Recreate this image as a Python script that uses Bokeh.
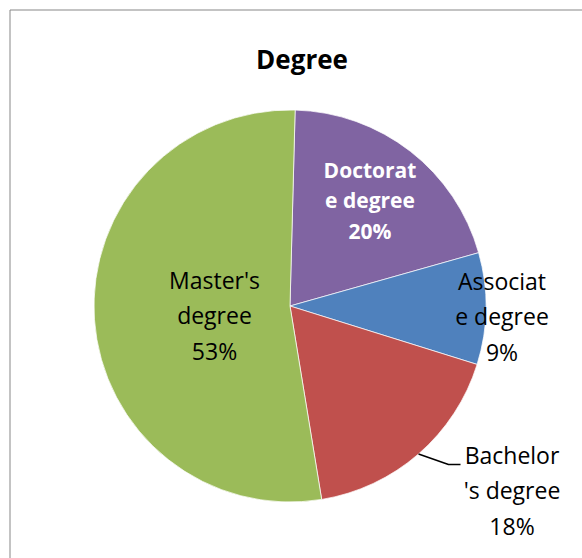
import numpy as np
from bokeh.plotting import figure
from bokeh.models import Range1d, ColumnDataSource
from bokeh.core.properties import value
from bokeh.embed import file_html
from bokeh.resources import INLINE

# ---- data ----
title = "Degree"
categories = ["Doctorate degree", "Associate degree", "Bachelor's degree", "Master's degree"]
label_lines = ["Doctorat\ne degree", "Associat\ne degree", "Bachelor\n's degree", "Master's\ndegree"]
values = [20.2, 9.2, 17.6, 53.0]
colors = ["#8064A2", "#4F81BD", "#C0504D", "#9BBB59"]

# ---- layout ----
W, H = 582, 558
cx, cy, R = 289.5, 252.5, 196.0
first_angle_deg = 1.5  # clockwise from 12 o'clock
label_pos = [(369.5, 358.0), (501.5, 242.0), (511.5, 68.0), (214.0, 243.0)]
label_color = ["white", "black", "black", "black"]
label_style = ["bold", "normal", "normal", "normal"]
label_size = ["21px", "23px", "23px", "23px"]

vals = np.array(values, dtype=float)
frac = vals / vals.sum()
cum = np.concatenate([[0.0], np.cumsum(frac)]) * 2 * np.pi + np.radians(first_angle_deg)
theta1, theta2 = cum[:-1], cum[1:]
# bokeh angles: counter-clockwise from +x
start = np.pi / 2 - theta2
end = np.pi / 2 - theta1
pct = [f"{int(round(f * 100))}%" for f in frac]
texts = [f"{l}\n{p}" for l, p in zip(label_lines, pct)]

p = figure(width=W, height=H, x_range=Range1d(0, W), y_range=Range1d(0, H),
           min_border=0, toolbar_location=None, output_backend="svg",
           x_axis_location=None, y_axis_location=None)
p.grid.visible = False
p.outline_line_color = None
p.background_fill_color = "white"
p.border_fill_color = "white"

src = ColumnDataSource(dict(start=start, end=end, color=colors, cat=categories))
p.wedge(x=cx, y=cy, radius=R, start_angle="start", end_angle="end",
        fill_color="color", line_color="white", line_width=0.7, source=src)

# chart border (left and top edges visible)
p.line([9.5, 9.5], [0, H - 9.5], line_color="#878787", line_width=1)
p.line([9.5, W], [H - 9.5, H - 9.5], line_color="#878787", line_width=1)

# title
p.text(x=[301.5], y=[500], text=[title], text_font=value("Open Sans"),
       text_font_size="26px", text_font_style="bold", text_align="center",
       text_baseline="alphabetic", text_color="black")

# labels
for (lx, ly), t, c, s, fs in zip(label_pos, texts, label_color, label_style, label_size):
    p.text(x=[lx], y=[ly], text=[t], text_font=value("Open Sans"),
           text_font_size=fs, text_font_style=s, text_align="center",
           text_baseline="middle", text_color=c, text_line_height=1.1)

# leader line for Bachelor's degree
mid = (theta1[2] + theta2[2]) / 2
sx, sy = cx + R * np.sin(mid), cy + R * np.cos(mid)
p.line([sx, 448.0, 460.0], [sy, 94.0, 94.0], line_color="black", line_width=1.5)

open("out.html", "w").write(file_html(p, INLINE))
